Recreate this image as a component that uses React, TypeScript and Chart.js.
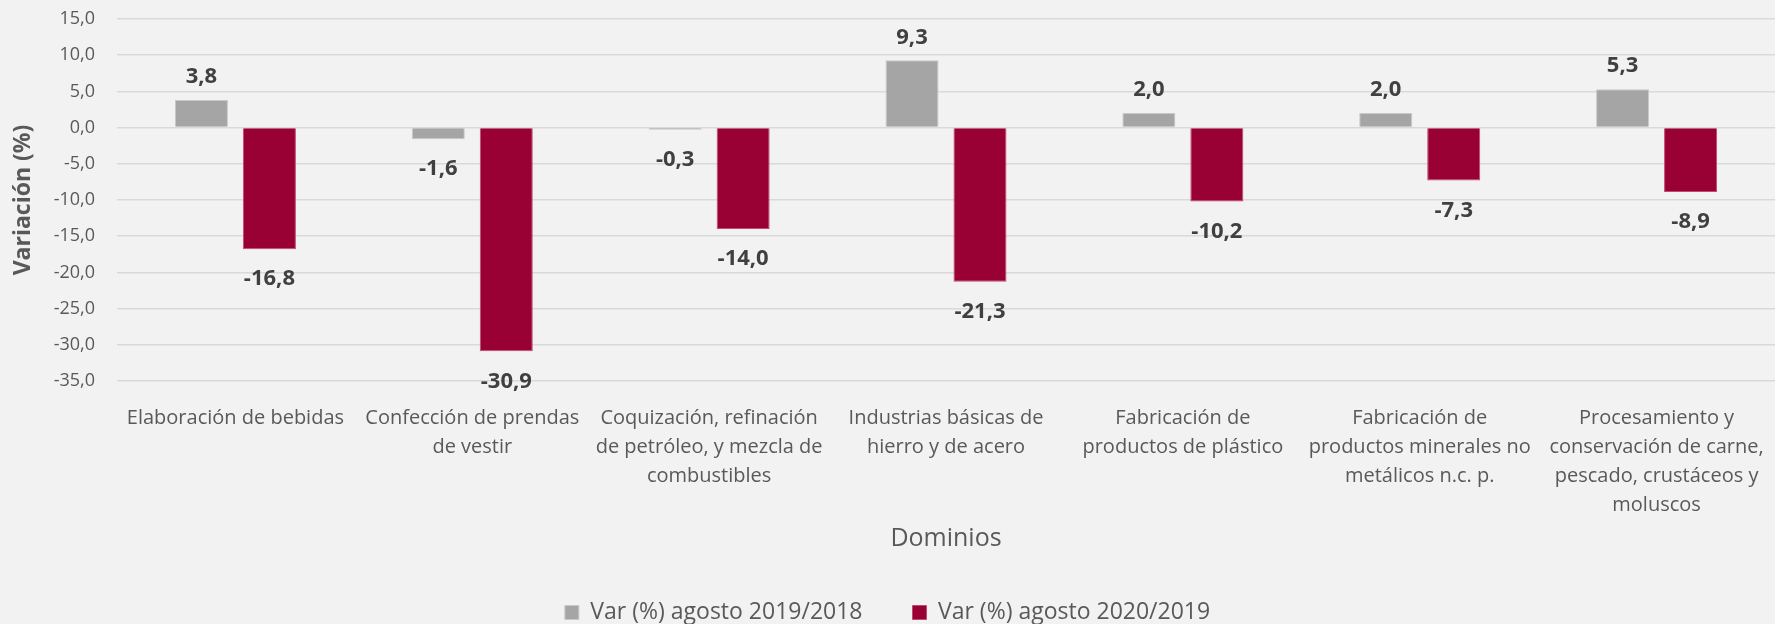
import React, { useEffect, useRef } from "react";
import { Chart, registerables } from "chart.js";

Chart.register(...registerables);

const categories: string[][] = [
  ["Elaboración de bebidas"],
  ["Confección de prendas", "de vestir"],
  ["Coquización, refinación", "de petróleo, y mezcla de", "combustibles"],
  ["Industrias básicas de", "hierro y de acero"],
  ["Fabricación de", "productos de plástico"],
  ["Fabricación de", "productos minerales no", "metálicos n.c. p."],
  ["Procesamiento y", "conservación de carne,", "pescado, crustáceos y", "moluscos"],
];

const var2019: number[] = [3.8, -1.6, -0.3, 9.3, 2.0, 2.0, 5.3];
const var2020: number[] = [-16.8, -30.9, -14.0, -21.3, -10.2, -7.3, -8.9];

const seriesNames: string[] = ["Var (%) agosto 2019/2018", "Var (%) agosto 2020/2019"];
const yTitle = "Variación (%)";
const xTitle = "Dominios";

const FONT = "'Open Sans', 'Noto Sans', sans-serif";
const fmt = (v: number) => v.toFixed(1).replace(".", ",");

const dataLabelPlugin = {
  id: "dataLabels",
  afterDatasetsDraw(chart: any) {
    const ctx = chart.ctx;
    ctx.save();
    ctx.font = `bold 22px ${FONT}`;
    ctx.fillStyle = "#404040";
    ctx.textAlign = "center";
    ctx.textBaseline = "middle";
    chart.data.datasets.forEach((ds: any, di: number) => {
      const meta = chart.getDatasetMeta(di);
      meta.data.forEach((bar: any, i: number) => {
        const v = ds.data[i] as number;
        const y = v >= 0 ? bar.y - 23 : bar.y + 30;
        ctx.fillText(fmt(v), bar.x, y);
      });
    });
    ctx.restore();
  },
};

const bgPlugin = {
  id: "bg",
  beforeDraw(chart: any) {
    const ctx = chart.ctx;
    ctx.save();
    ctx.fillStyle = "#f2f2f2";
    ctx.fillRect(0, 0, chart.width, chart.height);
    ctx.restore();
  },
};

export default function App() {
  const ref = useRef<HTMLCanvasElement | null>(null);
  useEffect(() => {
    if (!ref.current) return;
    const chart = new Chart(ref.current, {
      type: "bar",
      data: {
        labels: categories,
        datasets: [
          {
            label: seriesNames[0],
            data: var2019,
            backgroundColor: "#a5a5a5",
            borderColor: "#c9c9c9",
            borderWidth: 1,
            categoryPercentage: 0.574,
            barPercentage: 0.78,
          },
          {
            label: seriesNames[1],
            data: var2020,
            backgroundColor: "#990033",
            borderColor: "#c24a70",
            borderWidth: 1,
            categoryPercentage: 0.574,
            barPercentage: 0.78,
          },
        ],
      },
      plugins: [bgPlugin, dataLabelPlugin],
      options: {
        animation: false,
        responsive: true,
        maintainAspectRatio: false,
        layout: { padding: { top: 19, left: 0, right: 0, bottom: 0 } },
        plugins: {
          tooltip: { enabled: false },
          legend: {
            position: "bottom",
            labels: {
              color: "#595959",
              font: { family: FONT, size: 23 },
              boxWidth: 14,
              boxHeight: 14,
              padding: 50,
            },
          },
        },
        scales: {
          x: {
            grid: { display: false, drawTicks: false },
            border: { display: false },
            ticks: {
              color: "#595959",
              font: { family: FONT, size: 20, lineHeight: 1.45 },
              padding: 23,
              maxRotation: 0,
              autoSkip: false,
            },
            title: {
              display: true,
              text: xTitle,
              color: "#595959",
              font: { family: FONT, size: 25 },
              padding: { top: 0, bottom: -3 },
            },
            afterFit(scale: any) {
              scale.height = 170;
              scale.paddingLeft = 0;
              scale.paddingRight = 0;
            },
          },
          y: {
            min: -35,
            max: 15,
            grid: { color: "#d9d9d9", lineWidth: 1.5, drawTicks: false },
            border: { display: false },
            ticks: {
              stepSize: 5,
              color: "#595959",
              font: { family: FONT, size: 18 },
              padding: 22,
              callback: (v: any) => fmt(Number(v)),
            },
            title: {
              display: true,
              text: yTitle,
              color: "#595959",
              font: { family: FONT, size: 23, weight: "bold" },
              padding: { top: 10, bottom: 0 },
            },
            afterFit(scale: any) {
              scale.width = 117;
              scale.paddingTop = 11;
              scale.paddingBottom = 11;
            },
          },
        },
      },
    });
    return () => chart.destroy();
  }, []);

  return (
    <div style={{ position: "fixed", left: 0, top: 0, width: 1775, height: 624, overflow: "hidden", background: "#f2f2f2" }}>
      <div style={{ position: "absolute", left: 0, top: 0, width: 1775, height: 634 }}>
        <canvas ref={ref} />
      </div>
    </div>
  );
}
